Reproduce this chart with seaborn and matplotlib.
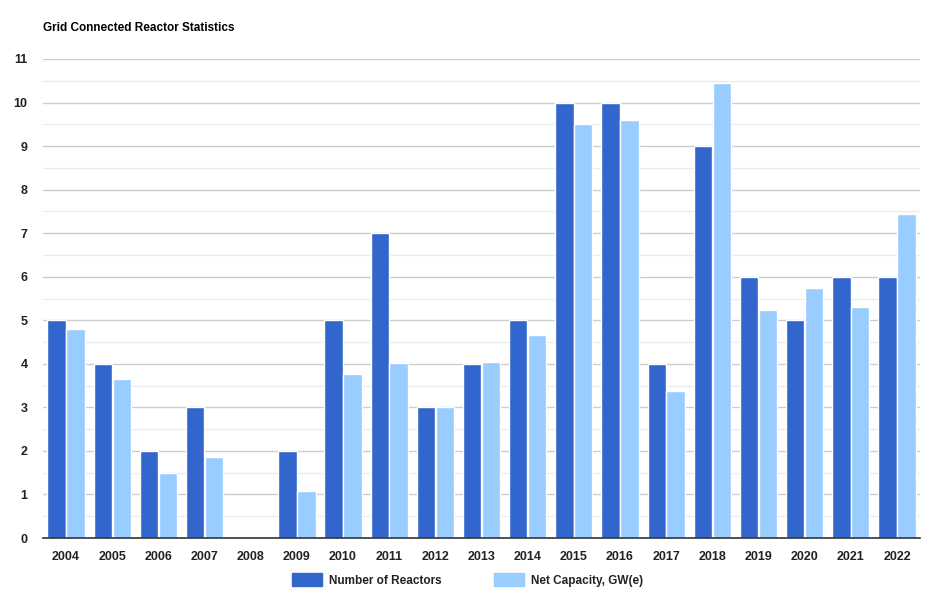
import matplotlib
matplotlib.use("Agg")
import matplotlib.pyplot as plt
import pandas as pd
import seaborn as sns
from matplotlib.ticker import MultipleLocator

years = [str(y) for y in range(2004, 2023)]
reactors = [5, 4, 2, 3, 0, 2, 5, 7, 3, 4, 5, 10, 10, 4, 9, 6, 5, 6, 6]
capacity = [4.80, 3.65, 1.49, 1.86, 0.0, 1.08, 3.77, 4.02, 3.01, 4.04,
            4.66, 9.50, 9.59, 3.38, 10.45, 5.23, 5.75, 5.30, 7.43]
series_names = ["Number of Reactors", "Net Capacity, GW(e)"]
colors = ["#3366CC", "#99CCFF"]

df = pd.concat([
    pd.DataFrame({"year": years, "value": reactors, "series": series_names[0]}),
    pd.DataFrame({"year": years, "value": capacity, "series": series_names[1]}),
], ignore_index=True)

sns.set_theme(style="white")
plt.rcParams["font.family"] = ["Arial", "Liberation Sans", "DejaVu Sans"]

fig = plt.figure(figsize=(9.39, 6.02), dpi=100)
ax = fig.add_axes([0.0458, 0.1063, 0.934, 0.7957])

sns.barplot(data=df, x="year", y="value", hue="series", palette=colors,
            width=0.82, gap=0.03, saturation=1, ax=ax, legend=False)

ax.set_ylim(0, 11)
ax.yaxis.set_major_locator(MultipleLocator(1))
ax.yaxis.set_minor_locator(MultipleLocator(0.5))
ax.grid(which="major", axis="y", color="#cccccc", lw=1)
ax.grid(which="minor", axis="y", color="#ebebeb", lw=1)
ax.set_axisbelow(True)
for s in ["top", "right", "left"]:
    ax.spines[s].set_visible(False)
ax.spines["bottom"].set_color("#333333")
ax.spines["bottom"].set_linewidth(1.2)
ax.tick_params(axis="both", which="both", length=0, labelsize=9,
               labelcolor="#222222")
ax.tick_params(axis="y", pad=11)
ax.tick_params(axis="x", pad=9)
for lab in ax.get_xticklabels() + ax.get_yticklabels():
    lab.set_fontweight("bold")
ax.set_xlabel("")
ax.set_ylabel("")

fig.text(43 / 939, 1 - 28 / 602, "Grid Connected Reactor Statistics",
         fontsize=8.5, fontweight="bold", color="#000000", va="center")

handles = [plt.Rectangle((0, 0), 1, 1, color=c) for c in colors]
leg = fig.legend(handles, series_names, loc="center", ncol=2,
                 bbox_to_anchor=(0.498, 1 - 580 / 602), frameon=False,
                 handlelength=2.5, handleheight=1.3, handletextpad=0.6,
                 columnspacing=4.45,
                 prop={"size": 8.5, "weight": "bold"})
for t in leg.get_texts():
    t.set_color("#222222")

fig.savefig("out.png", dpi=100)
